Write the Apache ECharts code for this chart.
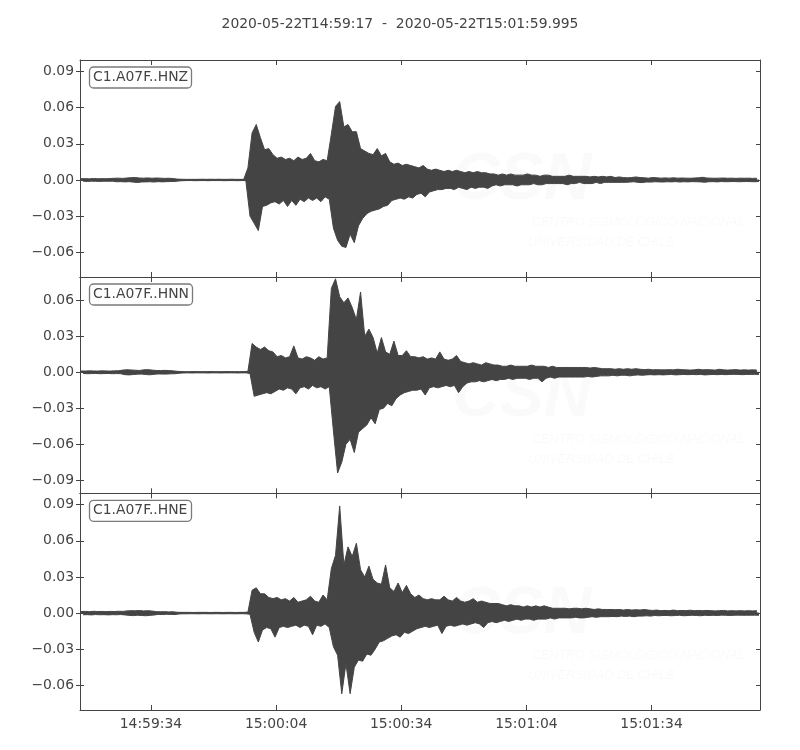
<!DOCTYPE html>
<html>
<head>
<meta charset="utf-8">
<script src="https://cdn.jsdelivr.net/npm/echarts@6/dist/echarts.min.js"></script>
<style>
html,body{margin:0;padding:0;background:#fff;}
#chart{width:800px;height:750px;}
</style>
</head>
<body>
<div id="chart"></div>
<script>
// ---- Data (peak max / min acceleration per 1-second window, starting 2020-05-22T14:59:17) ----
const titleText = '2020-05-22T14:59:17  -  2020-05-22T15:01:59.995';
const channels = ['C1.A07F..HNZ', 'C1.A07F..HNN', 'C1.A07F..HNE'];
const durationSec = 163;

const xTickSec = [17, 47, 77, 107, 137];
const xTickLabels = ['14:59:34', '15:00:04', '15:00:34', '15:01:04', '15:01:34'];

const yTicksA = [-0.06, -0.03, 0, 0.03, 0.06, 0.09];
const yLabelsA = ['\u22120.06', '\u22120.03', '0.00', '0.03', '0.06', '0.09'];
const yTicksB = [-0.09, -0.06, -0.03, 0, 0.03, 0.06];
const yLabelsB = ['\u22120.09', '\u22120.06', '\u22120.03', '0.00', '0.03', '0.06'];
const yRanges = [[-0.0805, 0.0995], [-0.101, 0.0795], [-0.0805, 0.0995]];

const hnzMax = [
 .0010,.0011,.0009,.0012,.0010,.0011,.0010,.0012,.0014,.0015,
 .0013,.0016,.0019,.0020,.0016,.0015,.0017,.0014,.0016,.0015,
 .0013,.0014,.0012,.0007,.0006,.0005,.0005,.0005,.0005,.0006,
 .0005,.0006,.0005,.0006,.0005,.0005,.0006,.0005,.0005,.0005,
 .010,.039,.046,.035,.025,.026,.021,.018,.019,.017,
 .018,.016,.019,.017,.018,.022,.016,.015,.017,.016,
 .038,.061,.065,.044,.046,.040,.040,.026,.024,.022,
 .021,.026,.020,.022,.015,.013,.014,.012,.013,.012,
 .011,.010,.012,.009,.008,.009,.008,.007,.008,.007,
 .008,.007,.006,.007,.006,.007,.006,.006,.005,.005,
 .004,.005,.004,.005,.004,.004,.004,.005,.004,.004,
 .003,.004,.004,.003,.003,.003,.003,.004,.003,.003,
 .003,.003,.0025,.003,.0025,.003,.0025,.003,.002,.0025,
 .002,.0018,.002,.0025,.002,.0018,.0015,.002,.0018,.0015,
 .0017,.0015,.0018,.0015,.0016,.0015,.0014,.0016,.0018,.0022,
 .0016,.0015,.0014,.0015,.0016,.0014,.0015,.0013,.0015,.0014,
 .0015,.0013,.0014
];
const hnzMin = [
 -.0010,-.0012,-.0010,-.0011,-.0012,-.0010,-.0011,-.0010,-.0015,-.0014,
 -.0016,-.0014,-.0018,-.0021,-.0017,-.0016,-.0015,-.0017,-.0014,-.0016,
 -.0014,-.0013,-.0012,-.0008,-.0006,-.0005,-.0005,-.0006,-.0005,-.0005,
 -.0006,-.0005,-.0005,-.0005,-.0006,-.0005,-.0005,-.0006,-.0005,-.0005,
 -.030,-.036,-.042,-.022,-.021,-.019,-.018,-.020,-.017,-.022,
 -.017,-.021,-.016,-.018,-.015,-.017,-.015,-.018,-.014,-.016,
 -.040,-.050,-.055,-.056,-.045,-.052,-.038,-.032,-.028,-.026,
 -.025,-.024,-.022,-.021,-.017,-.016,-.015,-.016,-.014,-.015,
 -.012,-.011,-.014,-.010,-.009,-.008,-.008,-.007,-.007,-.008,
 -.006,-.007,-.008,-.006,-.007,-.006,-.006,-.007,-.005,-.004,
 -.005,-.004,-.004,-.004,-.005,-.004,-.004,-.004,-.003,-.004,
 -.004,-.003,-.003,-.003,-.003,-.003,-.004,-.003,-.003,-.002,
 -.003,-.003,-.003,-.002,-.003,-.002,-.002,-.002,-.002,-.002,
 -.002,-.0018,-.0015,-.002,-.0022,-.0017,-.0018,-.0015,-.0016,-.0017,
 -.0015,-.0016,-.0014,-.0017,-.0015,-.0016,-.0014,-.0015,-.0016,-.0019,
 -.0015,-.0014,-.0016,-.0013,-.0015,-.0014,-.0013,-.0015,-.0014,-.0013,
 -.0014,-.0015,-.0013
];
const hnnMax = [
 .0011,.0010,.0012,.0011,.0010,.0012,.0011,.0010,.0012,.0013,
 .0018,.0021,.0019,.0017,.0015,.0020,.0022,.0018,.0015,.0014,
 .0016,.0014,.0012,.0008,.0006,.0005,.0005,.0006,.0005,.0005,
 .0005,.0006,.0005,.0005,.0005,.0006,.0005,.0005,.0005,.0006,
 .0008,.024,.021,.019,.021,.018,.017,.013,.014,.012,
 .013,.022,.012,.011,.013,.012,.010,.013,.011,.012,
 .070,.078,.063,.058,.062,.054,.044,.067,.030,.036,
 .029,.016,.029,.017,.015,.026,.014,.014,.018,.013,
 .013,.012,.013,.011,.012,.011,.017,.011,.010,.011,
 .014,.009,.008,.007,.008,.007,.006,.008,.007,.006,
 .006,.005,.005,.006,.005,.005,.005,.005,.006,.005,
 .005,.005,.004,.005,.004,.004,.004,.004,.004,.004,
 .004,.004,.0035,.004,.0035,.003,.003,.003,.0025,.003,
 .0025,.003,.0025,.003,.0025,.0022,.0025,.002,.0022,.002,
 .002,.0022,.002,.0025,.0022,.002,.0018,.002,.0025,.002,
 .0022,.002,.0018,.0025,.002,.0018,.002,.0022,.0018,.002,
 .0018,.002,.0018
];
const hnnMin = [
 -.0010,-.0012,-.0011,-.0010,-.0012,-.0011,-.0010,-.0012,-.0011,-.0012,
 -.0020,-.0022,-.0019,-.0016,-.0015,-.0019,-.0021,-.0017,-.0014,-.0015,
 -.0015,-.0013,-.0012,-.0008,-.0006,-.0005,-.0006,-.0005,-.0005,-.0005,
 -.0006,-.0005,-.0005,-.0006,-.0005,-.0005,-.0005,-.0006,-.0005,-.0005,
 -.001,-.020,-.019,-.018,-.017,-.018,-.016,-.014,-.015,-.013,
 -.014,-.018,-.013,-.012,-.014,-.011,-.013,-.012,-.014,-.012,
 -.049,-.084,-.075,-.060,-.056,-.067,-.050,-.047,-.044,-.038,
 -.043,-.031,-.030,-.026,-.028,-.022,-.019,-.017,-.016,-.015,
 -.015,-.014,-.019,-.013,-.012,-.013,-.012,-.011,-.012,-.011,
 -.017,-.012,-.009,-.008,-.008,-.007,-.008,-.007,-.006,-.007,
 -.006,-.006,-.005,-.006,-.005,-.005,-.005,-.006,-.005,-.005,
 -.008,-.005,-.004,-.005,-.004,-.004,-.004,-.004,-.004,-.004,
 -.004,-.0035,-.004,-.0035,-.003,-.003,-.003,-.0025,-.003,-.0025,
 -.0025,-.003,-.0025,-.0022,-.0025,-.0022,-.002,-.0022,-.002,-.0022,
 -.002,-.0018,-.0022,-.002,-.0018,-.002,-.0018,-.002,-.0018,-.0022,
 -.002,-.0018,-.002,-.0018,-.002,-.0018,-.0017,-.0018,-.002,-.0018,
 -.0018,-.0017,-.0018
];
const hneMax = [
 .0013,.0014,.0012,.0015,.0013,.0014,.0012,.0014,.0013,.0015,
 .0014,.0018,.0020,.0019,.0021,.0018,.0020,.0017,.0012,.0011,
 .0012,.0010,.0011,.0007,.0006,.0006,.0006,.0005,.0006,.0006,
 .0006,.0005,.0006,.0006,.0005,.0006,.0006,.0005,.0006,.0006,
 .0008,.019,.021,.016,.016,.013,.012,.013,.011,.012,
 .010,.013,.009,.010,.011,.014,.010,.009,.015,.011,
 .037,.048,.089,.040,.055,.047,.058,.036,.030,.039,
 .028,.025,.024,.040,.021,.018,.025,.017,.023,.016,
 .013,.015,.012,.011,.012,.011,.011,.014,.011,.010,
 .013,.010,.009,.010,.012,.009,.010,.009,.008,.008,
 .008,.007,.006,.007,.006,.006,.005,.006,.005,.006,
 .005,.006,.005,.004,.004,.004,.004,.0035,.004,.004,
 .0035,.004,.0035,.003,.0035,.003,.003,.003,.0028,.003,
 .0025,.003,.0025,.0028,.0025,.003,.0025,.0022,.0025,.002,
 .0022,.002,.0025,.002,.0022,.002,.0024,.002,.0022,.002,
 .0022,.002,.0018,.002,.0022,.0018,.002,.0018,.002,.0018,
 .002,.0018,.002
];
const hneMin = [
 -.0014,-.0013,-.0015,-.0012,-.0014,-.0013,-.0015,-.0013,-.0014,-.0012,
 -.0015,-.0019,-.0021,-.0018,-.0020,-.0022,-.0019,-.0016,-.0011,-.0012,
 -.0010,-.0011,-.0012,-.0007,-.0006,-.0006,-.0005,-.0006,-.0006,-.0005,
 -.0006,-.0006,-.0005,-.0006,-.0006,-.0005,-.0006,-.0006,-.0005,-.0006,
 -.001,-.016,-.024,-.014,-.012,-.013,-.020,-.012,-.011,-.012,
 -.011,-.010,-.012,-.010,-.011,-.018,-.010,-.011,-.009,-.012,
 -.028,-.035,-.067,-.042,-.067,-.045,-.039,-.040,-.034,-.035,
 -.030,-.024,-.023,-.021,-.019,-.018,-.020,-.016,-.017,-.015,
 -.013,-.012,-.011,-.012,-.011,-.010,-.017,-.011,-.010,-.011,
 -.010,-.009,-.010,-.009,-.008,-.009,-.012,-.008,-.007,-.008,
 -.007,-.006,-.007,-.006,-.005,-.006,-.005,-.005,-.006,-.005,
 -.005,-.005,-.004,-.005,-.004,-.004,-.004,-.004,-.0035,-.004,
 -.004,-.0035,-.003,-.0035,-.003,-.003,-.003,-.0028,-.003,-.0025,
 -.0028,-.0025,-.003,-.0025,-.0025,-.0022,-.0025,-.002,-.0022,-.002,
 -.002,-.0022,-.002,-.0018,-.0022,-.002,-.0018,-.002,-.0022,-.0018,
 -.002,-.0018,-.002,-.0017,-.0018,-.002,-.0018,-.0017,-.0018,-.0018,
 -.0018,-.0017,-.0018
];

const maxArrays = [hnzMax, hnnMax, hneMax];
const minArrays = [hnzMin, hnnMin, hneMin];

// ---- Layout / styling ----
const INK = '#444444';
const FONT = "'DejaVu Sans', sans-serif";
const FS = 13.9;
const gridTops = [60, 277, 493.3];
const gridHeights = [217, 216.3, 216.7];
const SEAM = 0.0004; // small overlap of the two fills around zero to avoid an antialiasing seam

function lookupLabel(ticks, labels) {
  return function (v) {
    for (let i = 0; i < ticks.length; i++) if (Math.abs(ticks[i] - v) < 1e-9) return labels[i];
    return '';
  };
}

const grids = [], xAxes = [], yAxes = [], series = [], titles = [], graphics = [];

titles.push({
  text: titleText, left: 'center', top: 12,
  textStyle: { fontFamily: FONT, fontSize: FS, fontWeight: 'normal', color: INK }
});

for (let g = 0; g < 3; g++) {
  grids.push({ left: 80, top: gridTops[g], width: 680, height: gridHeights[g], containLabel: false });
  const isLast = g === 2;
  xAxes.push({
    type: 'value', gridIndex: g, position: 'bottom', min: 0, max: durationSec,
    axisLine: { show: true, onZero: false, lineStyle: { color: INK, width: 1 } },
    axisTick: { show: true, inside: true, length: 5, customValues: xTickSec, lineStyle: { color: INK } },
    axisLabel: {
      show: isLast, customValues: xTickSec, margin: 7,
      fontFamily: FONT, fontSize: FS, color: INK,
      formatter: lookupLabel(xTickSec, xTickLabels)
    },
    splitLine: { show: false }
  });
  xAxes.push({
    type: 'value', gridIndex: g, position: 'top', min: 0, max: durationSec,
    axisLine: { show: true, onZero: false, lineStyle: { color: INK, width: 1 } },
    axisTick: { show: true, inside: true, length: 5, customValues: xTickSec, lineStyle: { color: INK } },
    axisLabel: { show: false },
    splitLine: { show: false }
  });
  const ticks = g === 1 ? yTicksB : yTicksA;
  const labels = g === 1 ? yLabelsB : yLabelsA;
  const [ymin, ymax] = yRanges[g];
  yAxes.push({
    type: 'value', gridIndex: g, position: 'left', min: ymin, max: ymax,
    axisLine: { show: true, onZero: false, lineStyle: { color: INK, width: 1 } },
    axisTick: { show: true, inside: false, length: 4, customValues: ticks, lineStyle: { color: INK } },
    axisLabel: {
      show: true, customValues: ticks, margin: 6,
      fontFamily: FONT, fontSize: FS, color: INK,
      formatter: lookupLabel(ticks, labels)
    },
    splitLine: { show: false }
  });
  yAxes.push({
    type: 'value', gridIndex: g, position: 'left', min: ymin, max: ymax,
    axisLine: { show: false, onZero: false },
    axisTick: { show: true, inside: true, length: 4, customValues: ticks, lineStyle: { color: INK } },
    axisLabel: { show: false },
    splitLine: { show: false }
  });
  yAxes.push({
    type: 'value', gridIndex: g, position: 'right', min: ymin, max: ymax,
    axisLine: { show: true, onZero: false, lineStyle: { color: INK, width: 1 } },
    axisTick: { show: true, inside: true, length: 4, customValues: ticks, lineStyle: { color: INK } },
    axisLabel: { show: false },
    splitLine: { show: false }
  });

  const maxs = maxArrays[g], mins = minArrays[g];
  const common = {
    type: 'line', xAxisIndex: 2 * g, yAxisIndex: 3 * g, symbol: 'none', silent: true,
    lineStyle: { color: INK, width: 1 }, itemStyle: { color: INK },
    animation: false, z: 3
  };
  series.push(Object.assign({}, common, {
    areaStyle: { color: INK, opacity: 1, origin: -SEAM },
    data: maxs.map((v, i) => [i + 0.25, v])
  }));
  series.push(Object.assign({}, common, {
    areaStyle: { color: INK, opacity: 1, origin: SEAM },
    data: mins.map((v, i) => [i + 0.75, v])
  }));

  titles.push({
    text: channels[g], left: 89, top: gridTops[g] + 6.5,
    padding: [3, 4, 3, 4], borderColor: '#7a7a7a', borderWidth: 1.3, borderRadius: 4,
    backgroundColor: '#ffffff',
    textStyle: { fontFamily: FONT, fontSize: FS, fontWeight: 'normal', color: INK, lineHeight: 16 }
  });

  const off = gridTops[g] - 60;
  graphics.push(
    { type: 'text', z: 0, silent: true, style: { text: 'CSN', x: 452, y: 148 + off, font: "italic bold 66px 'Liberation Sans', sans-serif", fill: 'rgba(0,0,0,0.018)' } },
    { type: 'text', z: 0, silent: true, style: { text: 'CENTRO SISMOLÓGICO NACIONAL', x: 532, y: 216 + off, font: "italic 12.5px 'Liberation Sans', sans-serif", fill: 'rgba(0,0,0,0.022)' } },
    { type: 'text', z: 0, silent: true, style: { text: 'UNIVERSIDAD DE CHILE', x: 528, y: 236 + off, font: "italic 12.5px 'Liberation Sans', sans-serif", fill: 'rgba(0,0,0,0.022)' } }
  );
}

const chart = echarts.init(document.getElementById('chart'), null, { renderer: 'canvas' });
chart.setOption({
  backgroundColor: '#ffffff',
  animation: false,
  title: titles,
  grid: grids,
  xAxis: xAxes,
  yAxis: yAxes,
  series: series,
  graphic: graphics
});
</script>
</body>
</html>
